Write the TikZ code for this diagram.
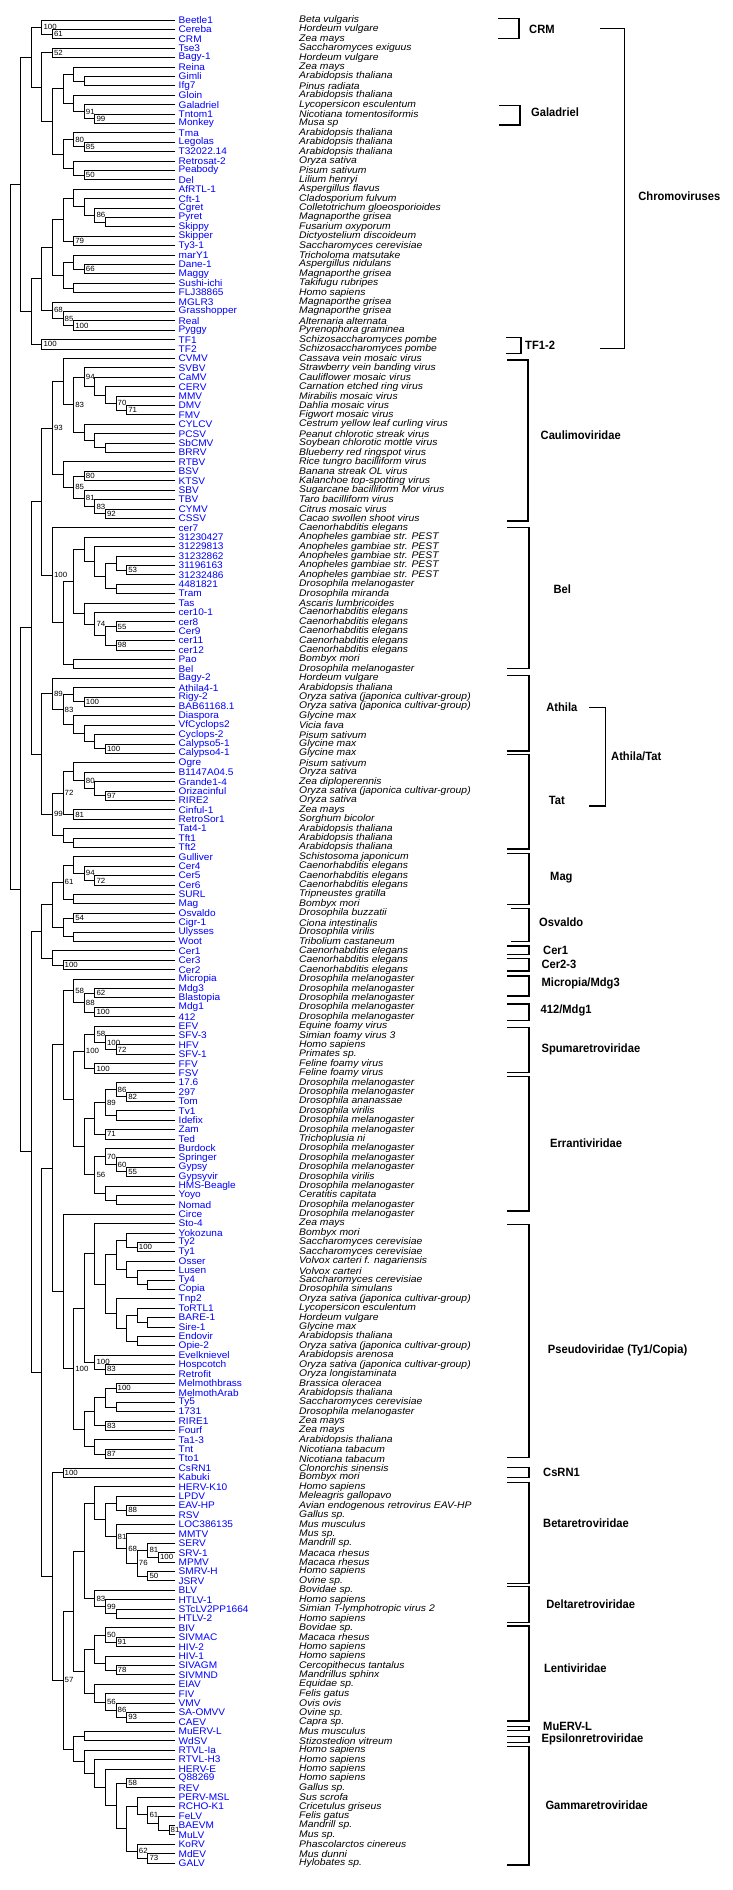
\documentclass[tikz,border=0pt]{standalone}
\usepackage{fontspec}
\setmainfont{Liberation Sans}
\newfontfamily\treefont{Liberation Sans}[FakeStretch=1.05]
\newfontfamily\spfont{Liberation Sans}[FakeStretch=1.08]
\newfontfamily\cladefont{Liberation Sans}[FakeStretch=0.93]
\usetikzlibrary{calc}

\tikzset{
	branch/.style={line width=0.9pt,line cap=rect},
	leafname/.style={anchor=west,inner sep=0pt,text=blue,font=\treefont\fontsize{9.6}{10}\selectfont},
	species/.style={anchor=west,inner sep=0pt,font=\spfont\itshape\fontsize{9.6}{10}\selectfont},
	boot/.style={anchor=west,inner sep=0pt,xshift=1.5pt,font=\treefont\fontsize{7.5}{8}\selectfont},
	cladebr/.style={line width=1.2pt},
	cladelab/.style={anchor=west,inner sep=0pt,font=\cladefont\bfseries\fontsize{12}{13}\selectfont}
}

% clade: name, level, upper child, lower child, bootstrap
\newcommand{\clade}[5]{%
	\coordinate (#1m) at ($(#3)!.5!(#4)$);
	\pgfmathsetmacro{\lvx}{10+10.6*#2}
	\coordinate (#1) at (\lvx,0 |- #1m);
	\draw[branch] (#1 |- #3) -- (#1 |- #4);
	\draw[branch] (#1 |- #3) -- (#3);
	\draw[branch] (#1 |- #4) -- (#4);
	\node[boot] (#1b) at (#1) {#5};
}

% bracket: left x, right x, top y, bottom y
\newcommand{\cbr}[4]{%
	\draw[cladebr] (#1,#3) -- (#2,#3) -- (#2,#4) -- (#1,#4);
}

\begin{document}
\begin{tikzpicture}[x=1pt,y=-1pt]
	\fill[white] (0,0) rectangle (732,1890);
	\useasboundingbox (0,0) rectangle (732,1890);

	% Leaves
	\foreach \nm/\sp [count=\i] in {
		Beetle1/Beta vulgaris,
		Cereba/Hordeum vulgare,
		CRM/Zea mays,
		Tse3/Saccharomyces exiguus,
		Bagy-1/Hordeum vulgare,
		Reina/Zea mays,
		Gimli/Arabidopsis thaliana,
		Ifg7/Pinus radiata,
		Gloin/Arabidopsis thaliana,
		Galadriel/Lycopersicon esculentum,
		Tntom1/Nicotiana tomentosiformis,
		Monkey/Musa sp,
		Tma/Arabidopsis thaliana,
		Legolas/Arabidopsis thaliana,
		T32022.14/Arabidopsis thaliana,
		Retrosat-2/Oryza sativa,
		Peabody/Pisum sativum,
		Del/Lilium henryi,
		AfRTL-1/Aspergillus flavus,
		Cft-1/Cladosporium fulvum,
		Cgret/Colletotrichum gloeosporioides,
		Pyret/Magnaporthe grisea,
		Skippy/Fusarium oxyporum,
		Skipper/Dictyostelium discoideum,
		Ty3-1/Saccharomyces cerevisiae,
		marY1/Tricholoma matsutake,
		Dane-1/Aspergillus nidulans,
		Maggy/Magnaporthe grisea,
		Sushi-ichi/Takifugu rubripes,
		FLJ38865/Homo sapiens,
		MGLR3/Magnaporthe grisea,
		Grasshopper/Magnaporthe grisea,
		Real/Alternaria alternata,
		Pyggy/Pyrenophora graminea,
		TF1/Schizosaccharomyces pombe,
		TF2/Schizosaccharomyces pombe,
		CVMV/Cassava vein mosaic virus,
		SVBV/Strawberry vein banding virus,
		CaMV/Cauliflower mosaic virus,
		CERV/Carnation etched ring virus,
		MMV/Mirabilis mosaic virus,
		DMV/Dahlia mosaic virus,
		FMV/Figwort mosaic virus,
		CYLCV/Cestrum yellow leaf curling virus,
		PCSV/Peanut chlorotic streak virus,
		SbCMV/Soybean chlorotic mottle virus,
		BRRV/Blueberry red ringspot virus,
		RTBV/Rice tungro bacilliform virus,
		BSV/Banana streak OL virus,
		KTSV/Kalanchoe top-spotting virus,
		SBV/Sugarcane bacilliform Mor virus,
		TBV/Taro bacilliform virus,
		CYMV/Citrus mosaic virus,
		CSSV/Cacao swollen shoot virus,
		cer7/Caenorhabditis elegans,
		31230427/Anopheles gambiae str. PEST,
		31229813/Anopheles gambiae str. PEST,
		31232862/Anopheles gambiae str. PEST,
		31196163/Anopheles gambiae str. PEST,
		31232486/Anopheles gambiae str. PEST,
		4481821/Drosophila melanogaster,
		Tram/Drosophila miranda,
		Tas/Ascaris lumbricoides,
		cer10-1/Caenorhabditis elegans,
		cer8/Caenorhabditis elegans,
		Cer9/Caenorhabditis elegans,
		cer11/Caenorhabditis elegans,
		cer12/Caenorhabditis elegans,
		Pao/Bombyx mori,
		Bel/Drosophila melanogaster,
		Bagy-2/Hordeum vulgare,
		Athila4-1/Arabidopsis thaliana,
		Rigy-2/Oryza sativa (japonica cultivar-group),
		BAB61168.1/Oryza sativa (japonica cultivar-group),
		Diaspora/Glycine max,
		VfCyclops2/Vicia fava,
		Cyclops-2/Pisum sativum,
		Calypso5-1/Glycine max,
		Calypso4-1/Glycine max,
		Ogre/Pisum sativum,
		B1147A04.5/Oryza sativa,
		Grande1-4/Zea diploperennis,
		Orizacinful/Oryza sativa (japonica cultivar-group),
		RIRE2/Oryza sativa,
		Cinful-1/Zea mays,
		RetroSor1/Sorghum bicolor,
		Tat4-1/Arabidopsis thaliana,
		Tft1/Arabidopsis thaliana,
		Tft2/Arabidopsis thaliana,
		Gulliver/Schistosoma japonicum,
		Cer4/Caenorhabditis elegans,
		Cer5/Caenorhabditis elegans,
		Cer6/Caenorhabditis elegans,
		SURL/Tripneustes gratilla,
		Mag/Bombyx mori,
		Osvaldo/Drosophila buzzatii,
		Cigr-1/Ciona intestinalis,
		Ulysses/Drosophila virilis,
		Woot/Tribolium castaneum,
		Cer1/Caenorhabditis elegans,
		Cer3/Caenorhabditis elegans,
		Cer2/Caenorhabditis elegans,
		Micropia/Drosophila melanogaster,
		Mdg3/Drosophila melanogaster,
		Blastopia/Drosophila melanogaster,
		Mdg1/Drosophila melanogaster,
		412/Drosophila melanogaster,
		EFV/Equine foamy virus,
		SFV-3/Simian foamy virus 3,
		HFV/Homo sapiens,
		SFV-1/Primates sp.,
		FFV/Feline foamy virus,
		FSV/Feline foamy virus,
		17.6/Drosophila melanogaster,
		297/Drosophila melanogaster,
		Tom/Drosophila ananassae,
		Tv1/Drosophila virilis,
		Idefix/Drosophila melanogaster,
		Zam/Drosophila melanogaster,
		Ted/Trichoplusia ni,
		Burdock/Drosophila melanogaster,
		Springer/Drosophila melanogaster,
		Gypsy/Drosophila melanogaster,
		Gypsyvir/Drosophila virilis,
		HMS-Beagle/Drosophila melanogaster,
		Yoyo/Ceratitis capitata,
		Nomad/Drosophila melanogaster,
		Circe/Drosophila melanogaster,
		Sto-4/Zea mays,
		Yokozuna/Bombyx mori,
		Ty2/Saccharomyces cerevisiae,
		Ty1/Saccharomyces cerevisiae,
		Osser/Volvox carteri f. nagariensis,
		Lusen/Volvox carteri,
		Ty4/Saccharomyces cerevisiae,
		Copia/Drosophila simulans,
		Tnp2/Oryza sativa (japonica cultivar-group),
		ToRTL1/Lycopersicon esculentum,
		BARE-1/Hordeum vulgare,
		Sire-1/Glycine max,
		Endovir/Arabidopsis thaliana,
		Opie-2/Oryza sativa (japonica cultivar-group),
		Evelknievel/Arabidopsis arenosa,
		Hospcotch/Oryza sativa (japonica cultivar-group),
		Retrofit/Oryza longistaminata,
		Melmothbrass/Brassica oleracea,
		MelmothArab/Arabidopsis thaliana,
		Ty5/Saccharomyces cerevisiae,
		1731/Drosophila melanogaster,
		RIRE1/Zea mays,
		Fourf/Zea mays,
		Ta1-3/Arabidopsis thaliana,
		Tnt/Nicotiana tabacum,
		Tto1/Nicotiana tabacum,
		CsRN1/Clonorchis sinensis,
		Kabuki/Bombyx mori,
		HERV-K10/Homo sapiens,
		LPDV/Meleagris gallopavo,
		EAV-HP/Avian endogenous retrovirus EAV-HP,
		RSV/Gallus sp.,
		LOC386135/Mus musculus,
		MMTV/Mus sp.,
		SERV/Mandrill sp.,
		SRV-1/Macaca rhesus,
		MPMV/Macaca rhesus,
		SMRV-H/Homo sapiens,
		JSRV/Ovine sp.,
		BLV/Bovidae sp.,
		HTLV-1/Homo sapiens,
		STcLV2PP1664/Simian T-lymphotropic virus 2,
		HTLV-2/Homo sapiens,
		BIV/Bovidae sp.,
		SIVMAC/Macaca rhesus,
		HIV-2/Homo sapiens,
		HIV-1/Homo sapiens,
		SIVAGM/Cercopithecus tantalus,
		SIVMND/Mandrillus sphinx,
		EIAV/Equidae sp.,
		FIV/Felis gatus,
		VMV/Ovis ovis,
		SA-OMVV/Ovine sp.,
		CAEV/Capra sp.,
		MuERV-L/Mus musculus,
		WdSV/Stizostedion vitreum,
		RTVL-Ia/Homo sapiens,
		RTVL-H3/Homo sapiens,
		HERV-E/Homo sapiens,
		Q88269/Homo sapiens,
		REV/Gallus sp.,
		PERV-MSL/Sus scrofa,
		RCHO-K1/Cricetulus griseus,
		FeLV/Felis gatus,
		BAEVM/Mandrill sp.,
		MuLV/Mus sp.,
		KoRV/Phascolarctos cinereus,
		MdEV/Mus dunni,
		GALV/Hylobates sp.}{
		\pgfmathsetmacro{\yy}{20+9.403*(\i-1)}
		\coordinate (t\i) at (175,\yy);
		\node[leafname] (n\i) at (178.5,\yy) {\nm};
		\node[species] (s\i) at (299,\yy) {\sp};
	}

	% Chromoviruses
	\clade{c2t3}{4}{t2}{t3}{61}
	\clade{c1t3}{3}{t1}{c2t3}{100}
	\clade{c4t5}{4}{t4}{t5}{52}
	\clade{c7t8}{7}{t7}{t8}{}
	\clade{c6t8}{6}{t6}{c7t8}{}
	\clade{c11t12}{8}{t11}{t12}{99}
	\clade{c10t12}{7}{t10}{c11t12}{91}
	\clade{c9t12}{6}{t9}{c10t12}{}
	\clade{c6t12}{5}{c6t8}{c9t12}{}
	\clade{c14t15}{7}{t14}{t15}{85}
	\clade{c13t15}{6}{t13}{c14t15}{80}
	\clade{c17t18}{7}{t17}{t18}{50}
	\clade{c16t18}{6}{t16}{c17t18}{}
	\clade{c13t18}{5}{c13t15}{c16t18}{}
	\clade{c6t18}{4}{c6t12}{c13t18}{}
	\clade{c4t18}{3}{c4t5}{c6t18}{}
	\clade{c1t18}{2}{c1t3}{c4t18}{}
	\clade{c22t23}{9}{t22}{t23}{}
	\clade{c21t23}{8}{t21}{c22t23}{86}
	\clade{c20t23}{7}{t20}{c21t23}{}
	\clade{c19t23}{6}{t19}{c20t23}{}
	\clade{c24t25}{6}{t24}{t25}{79}
	\clade{c19t25}{5}{c19t23}{c24t25}{}
	\clade{c27t28}{7}{t27}{t28}{66}
	\clade{c26t28}{6}{t26}{c27t28}{}
	\clade{c29t30}{6}{t29}{t30}{}
	\clade{c26t30}{5}{c26t28}{c29t30}{}
	\clade{c19t30}{4}{c19t25}{c26t30}{}
	\clade{c33t34}{6}{t33}{t34}{100}
	\clade{c32t34}{5}{t32}{c33t34}{85}
	\clade{c31t34}{4}{t31}{c32t34}{68}
	\clade{c19t34}{3}{c19t30}{c31t34}{}
	\clade{c35t36}{3}{t35}{t36}{100}
	\clade{c19t36}{2}{c19t34}{c35t36}{}
	\clade{c1t36}{1}{c1t18}{c19t36}{}

	% Caulimoviridae
	\clade{c42t43}{11}{t42}{t43}{71}
	\clade{c41t43}{10}{t41}{c42t43}{70}
	\clade{c40t43}{9}{t40}{c41t43}{}
	\clade{c39t43}{8}{t39}{c40t43}{}
	\clade{c38t43}{7}{t38}{c39t43}{94}
	\clade{c46t47}{9}{t46}{t47}{}
	\clade{c45t47}{8}{t45}{c46t47}{}
	\clade{c44t47}{7}{t44}{c45t47}{}
	\clade{c38t47}{6}{c38t43}{c44t47}{83}
	\clade{c37t47}{5}{t37}{c38t47}{}
	\clade{c49t50}{7}{t49}{t50}{80}
	\clade{c53t54}{9}{t53}{t54}{92}
	\clade{c52t54}{8}{t52}{c53t54}{83}
	\clade{c51t54}{7}{t51}{c52t54}{81}
	\clade{c49t54}{6}{c49t50}{c51t54}{85}
	\clade{c48t54}{5}{t48}{c49t54}{}
	\clade{c37t54}{4}{c37t47}{c48t54}{93}

	% Bel
	\clade{c59t60}{11}{t59}{t60}{53}
	\clade{c58t60}{10}{t58}{c59t60}{}
	\clade{c61t62}{10}{t61}{t62}{}
	\clade{c58t62}{9}{c58t60}{c61t62}{}
	\clade{c57t62}{8}{t57}{c58t62}{}
	\clade{c56t62}{7}{t56}{c57t62}{}
	\clade{c65t66}{10}{t65}{t66}{55}
	\clade{c67t68}{10}{t67}{t68}{98}
	\clade{c65t68}{9}{c65t66}{c67t68}{}
	\clade{c64t68}{8}{t64}{c65t68}{74}
	\clade{c63t68}{7}{t63}{c64t68}{}
	\clade{c56t68}{6}{c56t62}{c63t68}{}
	\clade{c69t70}{6}{t69}{t70}{}
	\clade{c56t70}{5}{c56t68}{c69t70}{}
	\clade{c55t70}{4}{t55}{c56t70}{100}
	\clade{c37t70}{3}{c37t54}{c55t70}{}

	% Athila / Tat
	\clade{c73t74}{7}{t73}{t74}{100}
	\clade{c72t74}{6}{t72}{c73t74}{}
	\clade{c78t79}{9}{t78}{t79}{100}
	\clade{c77t79}{8}{t77}{c78t79}{}
	\clade{c76t79}{7}{t76}{c77t79}{}
	\clade{c75t79}{6}{t75}{c76t79}{}
	\clade{c72t79}{5}{c72t74}{c75t79}{83}
	\clade{c71t79}{4}{t71}{c72t79}{89}
	\clade{c83t84}{9}{t83}{t84}{97}
	\clade{c82t84}{8}{t82}{c83t84}{}
	\clade{c81t84}{7}{t81}{c82t84}{80}
	\clade{c80t84}{6}{t80}{c81t84}{}
	\clade{c85t86}{6}{t85}{t86}{81}
	\clade{c80t86}{5}{c80t84}{c85t86}{72}
	\clade{c88t89}{6}{t88}{t89}{}
	\clade{c87t89}{5}{t87}{c88t89}{}
	\clade{c80t89}{4}{c80t86}{c87t89}{99}
	\clade{c71t89}{3}{c71t79}{c80t89}{}
	\clade{c37t89}{2}{c37t70}{c71t89}{}

	% Mag, Osvaldo, Cer
	\clade{c92t93}{8}{t92}{t93}{72}
	\clade{c91t93}{7}{t91}{c92t93}{94}
	\clade{c90t93}{6}{t90}{c91t93}{}
	\clade{c94t95}{6}{t94}{t95}{}
	\clade{c90t95}{5}{c90t93}{c94t95}{61}
	\clade{c96t97}{6}{t96}{t97}{54}
	\clade{c98t99}{6}{t98}{t99}{}
	\clade{c96t99}{5}{c96t97}{c98t99}{}
	\clade{c90t99}{4}{c90t95}{c96t99}{}
	\clade{c101t102}{5}{t101}{t102}{100}
	\clade{c100t102}{4}{t100}{c101t102}{}
	\clade{c90t102}{3}{c90t99}{c100t102}{}

	% Micropia, Spuma, Errantiviridae
	\clade{c104t105}{8}{t104}{t105}{62}
	\clade{c106t107}{8}{t106}{t107}{100}
	\clade{c104t107}{7}{c104t105}{c106t107}{88}
	\clade{c103t107}{6}{t103}{c104t107}{58}
	\clade{c110t111}{10}{t110}{t111}{72}
	\clade{c109t111}{9}{t109}{c110t111}{100}
	\clade{c108t111}{8}{t108}{c109t111}{58}
	\clade{c112t113}{8}{t112}{t113}{100}
	\clade{c108t113}{7}{c108t111}{c112t113}{100}
	\clade{c115t116}{11}{t115}{t116}{82}
	\clade{c114t116}{10}{t114}{c115t116}{86}
	\clade{c117t118}{10}{t117}{t118}{}
	\clade{c114t118}{9}{c114t116}{c117t118}{89}
	\clade{c119t120}{9}{t119}{t120}{71}
	\clade{c114t120}{8}{c114t118}{c119t120}{}
	\clade{c123t124}{11}{t123}{t124}{55}
	\clade{c122t124}{10}{t122}{c123t124}{60}
	\clade{c121t124}{9}{t121}{c122t124}{70}
	\clade{c126t127}{10}{t126}{t127}{}
	\clade{c125t127}{9}{t125}{c126t127}{}
	\clade{c121t127}{8}{c121t124}{c125t127}{56}
	\clade{c114t127}{7}{c114t120}{c121t127}{}
	\clade{c108t127}{6}{c108t113}{c114t127}{}
	\clade{c103t127}{5}{c103t107}{c108t127}{}

	% Pseudoviridae
	\clade{c131t132}{12}{t131}{t132}{100}
	\clade{c130t132}{11}{t130}{c131t132}{}
	\clade{c135t136}{13}{t135}{t136}{}
	\clade{c134t136}{12}{t134}{c135t136}{}
	\clade{c133t136}{11}{t133}{c134t136}{}
	\clade{c130t136}{10}{c130t132}{c133t136}{}
	\clade{c139t140}{13}{t139}{t140}{}
	\clade{c138t140}{12}{t138}{c139t140}{}
	\clade{c141t142}{12}{t141}{t142}{}
	\clade{c138t142}{11}{c138t140}{c141t142}{}
	\clade{c137t142}{10}{t137}{c138t142}{}
	\clade{c130t142}{9}{c130t136}{c137t142}{}
	\clade{c129t142}{8}{t129}{c130t142}{}
	\clade{c144t145}{9}{t144}{t145}{83}
	\clade{c143t145}{8}{t143}{c144t145}{100}
	\clade{c129t145}{7}{c129t142}{c143t145}{}
	\clade{c146t147}{10}{t146}{t147}{100}
	\clade{c148t149}{10}{t148}{t149}{}
	\clade{c146t149}{9}{c146t147}{c148t149}{}
	\clade{c150t151}{9}{t150}{t151}{83}
	\clade{c146t151}{8}{c146t149}{c150t151}{}
	\clade{c153t154}{9}{t153}{t154}{87}
	\clade{c152t154}{8}{t152}{c153t154}{}
	\clade{c146t154}{7}{c146t151}{c152t154}{}
	\clade{c129t154}{6}{c129t145}{c146t154}{100}
	\clade{c128t154}{5}{t128}{c129t154}{}
	\clade{c103t154}{4}{c103t127}{c128t154}{}

	% Retroviridae
	\clade{c155t156}{5}{t155}{t156}{100}
	\clade{c159t160}{11}{t159}{t160}{88}
	\clade{c158t160}{10}{t158}{c159t160}{}
	\clade{c164t165}{14}{t164}{t165}{100}
	\clade{c163t165}{13}{t163}{c164t165}{81}
	\clade{c166t167}{13}{t166}{t167}{50}
	\clade{c163t167}{12}{c163t165}{c166t167}{76}
	\clade{c162t167}{11}{t162}{c163t167}{68}
	\clade{c161t167}{10}{t161}{c162t167}{81}
	\clade{c158t167}{9}{c158t160}{c161t167}{}
	\clade{c157t167}{8}{t157}{c158t167}{}
	\clade{c170t171}{10}{t170}{t171}{}
	\clade{c169t171}{9}{t169}{c170t171}{99}
	\clade{c168t171}{8}{t168}{c169t171}{83}
	\clade{c157t171}{7}{c157t167}{c168t171}{}
	\clade{c173t174}{10}{t173}{t174}{91}
	\clade{c172t174}{9}{t172}{c173t174}{50}
	\clade{c176t177}{10}{t176}{t177}{78}
	\clade{c175t177}{9}{t175}{c176t177}{}
	\clade{c172t177}{8}{c172t174}{c175t177}{}
	\clade{c181t182}{11}{t181}{t182}{93}
	\clade{c180t182}{10}{t180}{c181t182}{86}
	\clade{c179t182}{9}{t179}{c180t182}{56}
	\clade{c178t182}{8}{t178}{c179t182}{}
	\clade{c172t182}{7}{c172t177}{c178t182}{}
	\clade{c157t182}{6}{c157t171}{c172t182}{}
	\clade{c183t184}{7}{t183}{t184}{}
	\clade{c193t194}{15}{t193}{t194}{81}
	\clade{c192t194}{14}{t192}{c193t194}{}
	\clade{c191t194}{13}{t191}{c192t194}{61}
	\clade{c190t194}{12}{t190}{c191t194}{}
	\clade{c196t197}{13}{t196}{t197}{73}
	\clade{c195t197}{12}{t195}{c196t197}{62}
	\clade{c190t197}{11}{c190t194}{c195t197}{}
	\clade{c188t189}{11}{t188}{t189}{58}
	\clade{c188t197}{10}{c188t189}{c190t197}{}
	\clade{c187t197}{9}{t187}{c188t197}{}
	\clade{c186t197}{8}{t186}{c187t197}{}
	\clade{c185t197}{7}{t185}{c186t197}{}
	\clade{c183t197}{6}{c183t184}{c185t197}{}
	\clade{c157t197}{5}{c157t182}{c183t197}{57}
	\clade{c155t197}{4}{c155t156}{c157t197}{}
	\clade{c103t197}{3}{c103t154}{c155t197}{}
	\clade{c90t197}{2}{c90t102}{c103t197}{}
	\clade{c37t197}{1}{c37t89}{c90t197}{}

	% Root
	\clade{c1t197}{0}{c1t36}{c37t197}{}

	% Clade brackets and names
	\cbr{498}{519}{18.3}{38.3}
	\node[cladelab] (labCRM) at (529,29) {CRM};
	\cbr{499}{520}{105.7}{125}
	\node[cladelab] (labGaladriel) at (531,112.7) {Galadriel};
	\cbr{506}{521}{337.7}{353.3}
	\node[cladelab] (labTF) at (525,345.7) {TF1-2};
	\cbr{600.4}{624.3}{28.3}{348.3}
	\node[cladelab] (labChromo) at (638.2,196.7) {Chromoviruses};
	\cbr{507}{528}{360}{521}
	\node[cladelab] (labCaulimo) at (540.5,435.7) {Caulimoviridae};
	\cbr{507}{529}{527.3}{668.3}
	\node[cladelab] (labBel) at (553.4,589) {Bel};
	\cbr{507}{529}{675.7}{751}
	\node[cladelab] (labAthila) at (546.2,707.7) {Athila};
	\cbr{589.3}{605.2}{707.7}{806}
	\node[cladelab] (labAthilaTat) at (611,756.7) {Athila/Tat};
	\cbr{507}{529}{754.3}{849}
	\node[cladelab] (labTat) at (548.6,800) {Tat};
	\cbr{507}{529}{853.3}{904.3}
	\node[cladelab] (labMag) at (550,877.3) {Mag};
	\cbr{511}{529}{908.3}{941.7}
	\node[cladelab] (labOsvaldo) at (539,921.7) {Osvaldo};
	\cbr{507}{529}{946}{954.3}
	\node[cladelab] (labCerA) at (543,950) {Cer1};
	\cbr{507}{529}{958.3}{971}
	\node[cladelab] (labCerB) at (541.4,964.3) {Cer2-3};
	\cbr{507}{529}{976}{996}
	\node[cladelab] (labMicropia) at (541.4,983.3) {Micropia/Mdg3};
	\cbr{507}{529}{1004}{1020.7}
	\node[cladelab] (labMdg) at (540.5,1010) {412/Mdg1};
	\cbr{507}{529}{1027.3}{1072.7}
	\node[cladelab] (labSpuma) at (541.4,1049.3) {Spumaretroviridae};
	\cbr{507}{529}{1076.7}{1211}
	\node[cladelab] (labErrant) at (550,1143.3) {Errantiviridae};
	\cbr{507}{529}{1224.3}{1457.3}
	\node[cladelab] (labPseudo) at (547.7,1350) {Pseudoviridae (Ty1/Copia)};
	\cbr{507}{529}{1467.7}{1477.3}
	\node[cladelab] (labCsRN) at (543,1472.7) {CsRN1};
	\cbr{507}{529}{1482.3}{1583.3}
	\node[cladelab] (labBeta) at (543,1522.7) {Betaretroviridae};
	\cbr{507}{529}{1586.7}{1622.7}
	\node[cladelab] (labDelta) at (546.2,1604.3) {Deltaretroviridae};
	\cbr{507}{529}{1626}{1721}
	\node[cladelab] (labLenti) at (543.8,1668.3) {Lentiviridae};
	\cbr{507}{529}{1726.7}{1730.7}
	\node[cladelab] (labMuERV) at (543,1726.7) {MuERV-L};
	\cbr{507}{529}{1736.7}{1742.7}
	\node[cladelab] (labEpsilon) at (541.4,1739.3) {Epsilonretroviridae};
	\cbr{507}{529}{1746.7}{1865}
	\node[cladelab] (labGamma) at (545.3,1805) {Gammaretroviridae};
\end{tikzpicture}
\end{document}
